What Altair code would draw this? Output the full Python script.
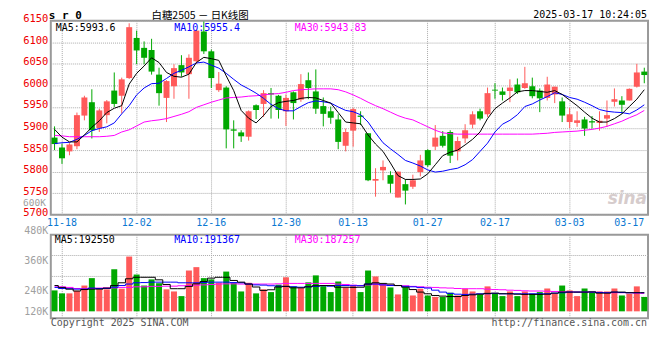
import altair as alt
import pandas as pd

# ---------------- data ----------------
DATES = [
    "11-15",
    "11-18", "11-19", "11-20", "11-21", "11-22", "11-25", "11-26", "11-27", "11-28", "11-29",
    "12-02", "12-03", "12-04", "12-05", "12-06", "12-09", "12-10", "12-11", "12-12", "12-13",
    "12-16", "12-17", "12-18", "12-19", "12-20", "12-23", "12-24", "12-25", "12-26", "12-27",
    "12-30", "12-31", "01-02", "01-03", "01-06", "01-07", "01-08", "01-09", "01-10",
    "01-13", "01-14", "01-15", "01-16", "01-17", "01-20", "01-21", "01-22", "01-23", "01-24",
    "01-27", "02-05", "02-06", "02-07", "02-10", "02-11", "02-12", "02-13", "02-14",
    "02-17", "02-18", "02-19", "02-20", "02-21", "02-24", "02-25", "02-26", "02-27", "02-28",
    "03-03", "03-04", "03-05", "03-06", "03-07", "03-10", "03-11", "03-12", "03-13", "03-14",
    "03-17",
]

OPEN = [5879, 5856, 5847, 5859, 5930, 5961, 5901, 5931, 5988, 5976,
        6017, 6110, 6087, 6082, 6025, 5971, 5998, 6047, 6026, 6056,
        6125, 6079, 5989, 5995, 5898, 5891, 5881, 5954, 5957, 5982,
        5976, 5940, 5984, 5967, 6012, 5986, 5952, 5940, 5921, 5860,
        5895, 5930, 5889, 5779, 5803, 5792, 5740, 5771, 5765, 5799,
        5850, 5858, 5883, 5892, 5847, 5877, 5909, 5940, 5933, 5990,
        5986, 5987, 6002, 5994, 5998, 5988, 5971, 5979, 5963, 5915,
        5913, 5921, 5917, 5913, 5923, 5962, 5965, 5965, 5997, 6032]
HIGH = [5905, 5865, 5866, 5937, 5976, 5991, 5946, 5966, 6030, 6018,
        6144, 6127, 6102, 6108, 6041, 6012, 6049, 6070, 6072, 6130,
        6148, 6083, 6031, 5998, 5919, 5896, 5942, 5956, 5989, 5994,
        5978, 5979, 5986, 6026, 6030, 6037, 5972, 5951, 5933, 5900,
        5948, 5940, 5889, 5808, 5826, 5801, 5800, 5782, 5793, 5839,
        5852, 5908, 5894, 5896, 5881, 5910, 5940, 5946, 5995, 6005,
        5995, 6014, 6016, 6043, 6018, 5993, 6020, 5997, 5972, 5948,
        5940, 5927, 5929, 5940, 5965, 5993, 5975, 5993, 6050, 6041]
LOW = [5850, 5818, 5838, 5852, 5919, 5877, 5892, 5912, 5950, 5935,
       6015, 6049, 6049, 6025, 5953, 5915, 5969, 6020, 5969, 6050,
       6073, 5994, 5985, 5854, 5854, 5869, 5872, 5922, 5927, 5923,
       5923, 5906, 5921, 5962, 5968, 5934, 5905, 5911, 5852, 5847,
       5858, 5908, 5778, 5742, 5780, 5751, 5740, 5724, 5760, 5789,
       5811, 5850, 5856, 5820, 5826, 5866, 5900, 5919, 5927, 5969,
       5965, 5961, 5980, 5992, 5970, 5938, 5965, 5959, 5915, 5901,
       5904, 5883, 5900, 5895, 5904, 5951, 5934, 5965, 5995, 6005]
CLOSE = [5864, 5831, 5863, 5931, 5972, 5896, 5942, 5963, 5957, 6014,
         6135, 6081, 6064, 6032, 5982, 6010, 6040, 6030, 6064, 6127,
         6079, 6017, 6004, 5898, 5895, 5882, 5940, 5943, 5982, 5979,
         5943, 5971, 5959, 6003, 5994, 5946, 5934, 5925, 5869, 5892,
         5945, 5927, 5780, 5783, 5811, 5772, 5800, 5756, 5780, 5826,
         5815, 5879, 5860, 5837, 5871, 5896, 5933, 5923, 5982, 5988,
         5978, 5995, 5984, 6005, 5975, 5970, 6002, 5997, 5930, 5933,
         5919, 5900, 5914, 5918, 5931, 5968, 5955, 5992, 6030, 6024]

MA5 = [5898, 5880, 5869, 5869, 5885, 5903, 5918, 5937, 5947, 5953,
       6003, 6028, 6045, 6064, 6053, 6030, 6021, 6019, 6026, 6053,
       6065, 6062, 6058, 6022, 5988, 5942, 5924, 5913, 5930, 5951,
       5960, 5963, 5965, 5970, 5972, 5971, 5965, 5959, 5937, 5915,
       5913, 5911, 5885, 5864, 5847, 5820, 5791, 5782, 5782, 5783,
       5795, 5816, 5837, 5845, 5850, 5862, 5875, 5892, 5923, 5946,
       5959, 5971, 5985, 5988, 5988, 5986, 5984, 5988, 5979, 5966,
       5953, 5938, 5924, 5915, 5915, 5923, 5934, 5951, 5968, 5990]
MA10 = [5865, 5867, 5868, 5875, 5884, 5895, 5900, 5904, 5913, 5934,
        5953, 5978, 5994, 6004, 6005, 6016, 6028, 6035, 6043, 6052,
        6054, 6047, 6040, 6028, 6014, 6001, 5992, 5982, 5970, 5956,
        5946, 5941, 5941, 5951, 5960, 5964, 5962, 5959, 5950, 5942,
        5939, 5932, 5915, 5890, 5867, 5853, 5840, 5826, 5820, 5813,
        5804, 5799, 5801, 5805, 5808, 5816, 5828, 5847, 5866, 5892,
        5910, 5919, 5932, 5951, 5957, 5966, 5974, 5983, 5979, 5972,
        5968, 5961, 5953, 5944, 5940, 5938, 5937, 5934, 5943, 5955]
MA30 = [5884, 5883, 5881, 5881, 5881, 5881, 5881, 5882, 5884, 5892,
        5897, 5906, 5915, 5918, 5920, 5923, 5928, 5933, 5939, 5949,
        5955, 5961, 5966, 5971, 5972, 5973, 5975, 5976, 5978, 5980,
        5981, 5984, 5988, 5990, 5991, 5992, 5992, 5992, 5990, 5985,
        5978, 5970, 5961, 5953, 5946, 5938, 5930, 5924, 5920, 5912,
        5904, 5896, 5890, 5888, 5887, 5887, 5887, 5887, 5887, 5887,
        5887, 5887, 5887, 5887, 5887, 5888, 5889, 5891, 5892, 5893,
        5894, 5896, 5898, 5901, 5905, 5911, 5917, 5925, 5932, 5942]

# volume, thousands of lots
VOLUME_K = [219, 205, 205, 217, 242, 277, 224, 224, 319, 227,
            379, 294, 242, 271, 253, 224, 214, 192, 313, 329,
            277, 271, 255, 308, 255, 214, 255, 205, 224, 211,
            246, 281, 238, 230, 257, 290, 239, 211, 261, 233,
            242, 211, 313, 285, 250, 233, 200, 233, 195, 227,
            195, 188, 188, 208, 195, 227, 214, 200, 238, 203,
            192, 214, 192, 214, 203, 211, 228, 203, 242, 219,
            192, 228, 211, 214, 214, 228, 195, 203, 238, 188]
VMA5_K = [242, 233, 225, 216, 223, 225, 225, 230, 242, 255,
          274, 281, 281, 281, 269, 247, 227, 227, 238, 250,
          261, 277, 281, 281, 266, 258, 249, 235, 219, 222,
          235, 238, 231, 231, 236, 241, 242, 242, 234, 234,
          233, 234, 249, 255, 252, 249, 242, 234, 223, 211,
          203, 195, 192, 190, 190, 195, 198, 201, 205, 206,
          203, 203, 201, 200, 200, 200, 201, 206, 211, 211,
          211, 211, 212, 206, 206, 211, 211, 208, 208, 208]
VMA10_K = [233, 228, 227, 225, 225, 230, 228, 228, 234, 242,
           249, 255, 256, 258, 258, 258, 258, 255, 255, 255,
           256, 258, 258, 258, 256, 255, 249, 245, 244, 241,
           239, 238, 236, 234, 236, 238, 241, 239, 242, 242,
           241, 241, 249, 249, 245, 242, 242, 238, 236, 233,
           230, 220, 211, 205, 201, 200, 201, 203, 203, 205,
           203, 203, 203, 203, 203, 203, 203, 206, 208, 211,
           211, 211, 211, 209, 208, 211, 209, 208, 208, 208]
VMA30_K = [239, 236, 233, 228, 227, 228, 230, 231, 231, 233,
           233, 236, 236, 238, 238, 239, 239, 241, 242, 244,
           245, 247, 249, 250, 250, 249, 249, 249, 249, 249,
           250, 252, 252, 252, 252, 252, 252, 252, 249, 247,
           244, 242, 245, 249, 245, 244, 242, 241, 238, 236,
           234, 233, 231, 230, 228, 227, 227, 227, 225, 223,
           222, 220, 219, 217, 216, 216, 215, 214, 213, 212,
           211, 211, 211, 210, 209, 208, 208, 208, 206, 205]

X_LABELS = ["11-18", "12-02", "12-16", "12-30", "01-13", "01-27", "02-17", "03-03", "03-17"]
PRICE_TICKS = [5700, 5750, 5800, 5850, 5900, 5950, 6000, 6050, 6100, 6150]
PRICE_DOMAIN = [5700, 6150]
VOL_TICKS = [120000, 240000, 360000, 480000]
VOL_GRID = [186000, 285000, 384000]
VOL_DOMAIN = [87000, 482400]
VOL_BASE = 120000

SYMBOL = "s r 0"
TITLE = "白糖2505 － 日K线图"
TIMESTAMP = "2025-03-17 10:24:05"
PRICE_LEGEND = ["MA5:5993.6", "MA10:5955.4", "MA30:5943.83"]
VOL_LEGEND = ["MA5:192550", "MA10:191367", "MA30:187257"]
STRAY_LABEL = "600K"
COPYRIGHT = "Copyright 2025 SINA.COM"
URL = "http://finance.sina.com.cn"
WATERMARK = "sina"

# ---------------- styling ----------------
RED = "#ff5a5a"
GREEN = "#00a800"
BLUE_LABEL = "#0a78d2"
GRID = "#aaaaaa"
MONO = "DejaVu Sans Mono"
CJK = "Noto Sans CJK SC"
LINE_COLORS = ["#000000", "#0000ff", "#ff00ff"]

n = len(DATES)
df = pd.DataFrame({
    "idx": list(range(n)),
    "date": DATES,
    "open": OPEN, "high": HIGH, "low": LOW, "close": CLOSE,
    "ma5": MA5, "ma10": MA10, "ma30": MA30,
    "vol": [v * 1000 for v in VOLUME_K],
    "vma5": [v * 1000 for v in VMA5_K],
    "vma10": [v * 1000 for v in VMA10_K],
    "vma30": [v * 1000 for v in VMA30_K],
})
df["dir"] = ["up" if c >= o else "down" for o, c in zip(OPEN, CLOSE)]

one = pd.DataFrame({"k": [0]})

last_test = "datum.value == '%s'" % X_LABELS[-1]
x_scale = alt.Scale(domain=DATES, paddingInner=0.2, paddingOuter=0.1)
grid_op = {"condition": {"test": last_test, "value": 0}, "value": 1}

x_main = alt.X("date:N", scale=x_scale, title=None, axis=alt.Axis(
    values=X_LABELS, ticks=False, domain=False, labelColor=BLUE_LABEL, labelFont=MONO,
    labelFontSize=10, labelPadding=3, labelAngle=0, labelOverlap=False,
    labelAlign={"condition": {"test": last_test, "value": "right"}, "value": "center"},
    grid=True, gridColor=GRID, gridDash=[1, 1], gridOpacity=grid_op, bandPosition=0.5))

x_vol = alt.X("date:N", scale=x_scale, title=None, axis=alt.Axis(
    values=X_LABELS, labels=False, ticks=False, domain=False,
    grid=True, gridColor=GRID, gridDash=[1, 1], gridOpacity=grid_op, bandPosition=0.5))

price_scale = alt.Scale(domain=PRICE_DOMAIN, nice=False, zero=False)
price_axis = alt.Axis(values=PRICE_TICKS, format="d", ticks=False, domain=False,
                      labelColor="#ee0000", labelFont=MONO, labelFontSize=10.5,
                      labelPadding=3, labelOffset=-2, grid=True, gridColor=GRID,
                      gridDash=[1, 1], minExtent=30, maxExtent=30)

vol_scale = alt.Scale(domain=VOL_DOMAIN, nice=False, zero=False)
vol_axis = alt.Axis(values=VOL_TICKS, labelExpr="format(datum.value / 1000, 'd') + 'K'",
                    ticks=False, domain=False, grid=False, labelColor="#a0a0a0",
                    labelFont=MONO, labelFontSize=10, labelPadding=3,
                    minExtent=30, maxExtent=30,
                    labelBaseline={"condition": [
                        {"test": "datum.value == 480000", "value": "bottom"},
                        {"test": "datum.value == 240000", "value": "top"}],
                        "value": "middle"})


def py(field):
    return alt.Y(field, scale=price_scale, axis=price_axis, title=None)


def vy(field):
    return alt.Y(field, scale=vol_scale, axis=vol_axis, title=None)


color = alt.Color("dir:N", scale=alt.Scale(domain=["up", "down"], range=[RED, GREEN]), legend=None)


def txt(s, x, y, col, size=10, align="left", baseline="middle", font=MONO,
        weight="normal", style="normal"):
    return alt.Chart(one).mark_text(
        text=s, align=align, baseline=baseline, color=col, fontSize=size, font=font,
        fontWeight=weight, fontStyle=style
    ).encode(x=alt.value(x), y=alt.value(y))


# ---------------- price panel ----------------
wick = alt.Chart(df).mark_rule(strokeWidth=1).encode(
    x=x_main, y=py("low:Q"), y2="high:Q", color=color)
body = alt.Chart(df).mark_bar().encode(
    x=x_main, y=py("open:Q"), y2="close:Q", color=color)
ma_lines = [
    alt.Chart(df).mark_line(color=c, strokeWidth=1).encode(
        x=x_main, y=py(f + ":Q"), order="idx:Q")
    for f, c in [("ma30", LINE_COLORS[2]), ("ma10", LINE_COLORS[1]), ("ma5", LINE_COLORS[0])]
]
price_texts = [
    txt(SYMBOL, -2, -2, "#000000", size=11, baseline="alphabetic", weight="bold"),
    txt(TITLE, 150, -1.5, "#000000", size=10.5, align="center", baseline="alphabetic", font=CJK),
    txt(TIMESTAMP, 599, -2.5, "#000000", size=10, align="right", baseline="alphabetic"),
    txt(PRICE_LEGEND[0], 5, 7, LINE_COLORS[0]),
    txt(PRICE_LEGEND[1], 124, 7, LINE_COLORS[1]),
    txt(PRICE_LEGEND[2], 245, 7, LINE_COLORS[2]),
    txt(STRAY_LABEL, -5, 183, "#a0a0a0", size=9.5, align="right"),
    txt(WATERMARK, 599, 179, "#d6cccc", size=17, align="right", font="DejaVu Sans",
        weight="bold", style="italic"),
]
price_panel = alt.layer(wick, body, *ma_lines, *price_texts).properties(width=600, height=195)

# ---------------- volume panel ----------------
vgrid = alt.Chart(pd.DataFrame({"g": VOL_GRID})).mark_rule(
    color=GRID, strokeDash=[1, 1], strokeWidth=1).encode(y=vy("g:Q"))
vbars = alt.Chart(df).mark_bar().encode(
    x=x_vol, y=vy("vol:Q"), y2=alt.datum(VOL_BASE), color=color)
vlines = [
    alt.Chart(df).mark_line(color=c, strokeWidth=1, interpolate="step").encode(
        x=x_vol, y=vy(f + ":Q"), order="idx:Q")
    for f, c in [("vma30", LINE_COLORS[2]), ("vma10", LINE_COLORS[1]), ("vma5", LINE_COLORS[0])]
]
vol_texts = [
    txt(VOL_LEGEND[0], 4, 5, LINE_COLORS[0]),
    txt(VOL_LEGEND[1], 124, 5, LINE_COLORS[1]),
    txt(VOL_LEGEND[2], 245, 5, LINE_COLORS[2]),
    txt(COPYRIGHT, 0, 89, "#555555"),
    txt(URL, 599, 89, "#555555", align="right"),
]
vol_panel = alt.layer(vgrid, vbars, *vlines, *vol_texts).properties(width=600, height=84)

chart = alt.vconcat(price_panel, vol_panel, spacing=20, bounds="flush").properties(
    padding={"left": 12, "top": 0, "right": 2, "bottom": 2},
    background="white",
).configure_view(stroke="#999999", strokeWidth=2)

chart.save("out.html", embed_options={"renderer": "svg", "actions": False})
